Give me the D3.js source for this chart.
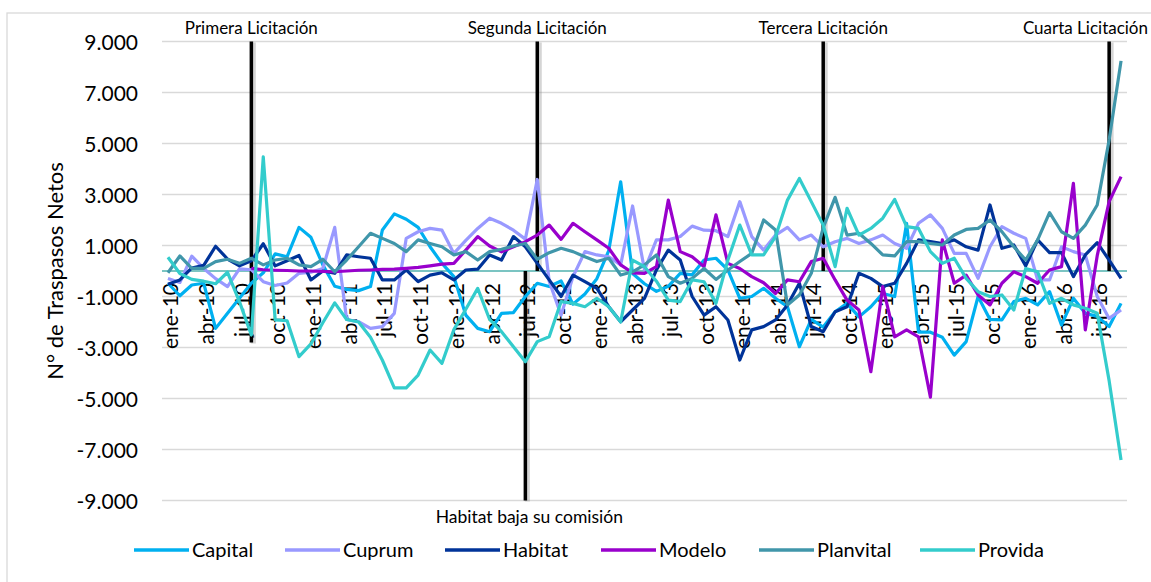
<!DOCTYPE html>
<html>
<head>
<meta charset="utf-8">
<script src="https://cdn.jsdelivr.net/npm/d3@7"></script>
<style>
  body { margin: 0; background: #fff; }
  svg { display: block; font-family: Lato, "Open Sans", sans-serif; }
</style>
</head>
<body>
<div id="chart"></div>
<script>
// month categories ene-10 .. sep-16
const months = ['ene', 'feb', 'mar', 'abr', 'may', 'jun', 'jul', 'ago', 'sep', 'oct', 'nov', 'dic'];
const years = ['10', '11', '12', '13', '14', '15', '16'];
const categories = years.flatMap(y => months.map(m => m + '-' + y)).slice(0, 81);

const seriesNames = ['Capital', 'Cuprum', 'Habitat', 'Modelo', 'Planvital', 'Provida'];
const seriesColors = ['#00B0F0', '#9999FF', '#003399', '#9900CC', '#4096AA', '#33CCCC'];

const capital = [-480, -970, -550, -480, -2250, -1660, -1070, -480, -70, 670, 560, 1710, 1320, 240, -600, -720, -770, -610, 1610, 2240,
  2030, 1710, 950, 300, -220, -1730, -2250, -2380, -1660, -1630, -1000, -480, -610, -390, -1300, -900, -300, 800, 3500, -100,
  -500, -800, -600, -90, -150, 430, 500, 40, -1070, -1000, -680, -1070, -1400, -2970, -1900, -2200, -1600, -1270, -1800, -1400,
  -880, -1000, 1870, -2400, -2400, -2600, -3300, -2770, -1000, -1900, -1920, -1200, -1070, -1330, -810, -2120, -1070, -1660, -1780, -2180,
  -1270];
const cuprum = [-290, -450, 580, 100, -300, -610, 80, 50, -420, -570, -470, -90, -50, 100, 1710, -1900, -1990, -2250, -2180, -1660,
  1280, 1540, 1670, 1600, 690, 1200, 1670, 2070, 1870, 1600, 1250, 3590, -400, -1730, -220, 760, 630, 560, 240, 2550,
  40, 1220, 1220, 1350, 1760, 1600, 1580, 1350, 2720, 1350, 820, 1410, 1710, 1220, 1410, 950, 1150, 1280, 1080, 1220,
  1410, 1080, 890, 1870, 2200, 1670, 690, 690, -290, 950, 1740, 1480, 1280, -350, -350, 950, 760, 630, -1000, -1860,
  -1530];
const habitat = [-520, -350, 120, 220, 970, 470, 200, 400, 1070, 200, 400, 610, -350, 0, -90, 630, 560, 500, -350, -350,
  40, -420, -160, -70, -350, 40, 70, 630, 430, 1350, 950, 300, -350, -1000, -160, -420, -680, -1400, -1990, -1530,
  -1070, 40, 820, 430, -1000, -1730, -1400, -1920, -3490, -2310, -2180, -1920, -1330, -480, -2180, -2380, -1600, -1400, -90, -290,
  -610, -480, 300, 1220, 1150, 1080, 1220, 950, 820, 2590, 890, 1020, 200, 1220, 720, 720, -220, 630, 1110, 430,
  -290];
const modelo = [null, null, null, null, null, null, null, 100, 50, 30, 20, 0, 0, -20, -30, 0, 30, 40, 60, 70,
  100, 140, 200, 270, 300, 820, 1350, 980, 750, 950, 1150, 1410, 1800, 1240, 1870, 1540, 1220, 890, 240, -70,
  -90, 170, 2780, 760, 560, 170, 2200, 300, 100, -220, -460, -880, -350, -420, 370, 500, -350, -1140, -1530, -3950,
  -610, -2580, -2310, -2580, -4950, 1220, -480, -160, -940, -1330, -480, -30, -220, -480, 40, 170, 3440, -2310, 600, 2720,
  3700];
const planvital = [-70, 590, 100, 100, 370, 460, 300, 500, 240, 430, 500, 240, 170, 460, -30, 430, 950, 1480, 1280, 1080,
  760, 1220, 1080, 950, 630, 760, 430, 760, 850, 980, 1080, 460, 720, 890, 760, 560, 370, 500, -160, -30,
  240, 630, -220, -480, -290, 100, -330, 40, 370, 690, 2000, 1610, -1330, -940, -90, 1700, 2890, 1410, 1480, 1080,
  630, 590, 1150, 1150, 1080, 1020, 1410, 1630, 1670, 2000, 1540, 950, 430, 1220, 2290, 1540, 1280, 1800, 2590, 5140,
  8240];
const provida = [540, -100, -330, -400, -500, -50, -1200, -2510, 4480, -1920, -1950, -3360, -2860, -2030, -1250, -1900, -2000, -2600, -3500, -4580,
  -4580, -4080, -3100, -3620, -2300, -1500, -680, -1900, -2380, -2970, -3560, -2770, -2580, -1200, -1270, -1400, -1070, -1400, -2000, 430,
  170, -400, -1140, -1200, -350, -420, -1270, 430, 1800, 630, 630, 1350, 2780, 3630, 2720, 1800, 170, 2460, 1410, 1670,
  2070, 2810, 1740, 1670, 760, 300, 500, -290, -810, -1000, -940, -1530, 100, -30, -1270, -1070, -1330, -1460, -1660, -4300,
  -7410];
const seriesValues = [capital, cuprum, habitat, modelo, planvital, provida];

// tender markers (vertical black bars)
const eventMonths = ['ago-10', 'ago-12', 'ago-14', 'ago-16'];
const eventLabels = ['Primera Licitación', 'Segunda Licitación', 'Tercera Licitación', 'Cuarta Licitación'];
const eventBottoms = [-2800, 0, 0, 0];
const eventTop = 9000;
const habitatMonth = 'jul-12';
const habitatLabel = 'Habitat baja su comisión';

const yTicks = [-9000, -7000, -5000, -3000, -1000, 1000, 3000, 5000, 7000, 9000];
const yTitle = 'N° de Traspasos Netos';

const width = 1151, height = 582;
const svg = d3.select('#chart').append('svg').attr('width', width).attr('height', height);

// chart border
svg.append('rect').attr('x', 7).attr('y', 13).attr('width', 1160).attr('height', 580)
  .attr('fill', 'none').attr('stroke', '#D9D9D9').attr('stroke-width', 1.3);

let x = d3.scalePoint().domain(categories).range([162, 1127]).padding(0.5);
let y = d3.scaleLinear().domain([-9000, 9000]).range([500.5, 41.5]);

const esLocale = d3.formatLocale({ decimal: ',', thousands: '.', grouping: [3], currency: ['$', ''], minus: '-' });
const fmt = esLocale.format(',.0f');

// gridlines
svg.append('g').selectAll('line').data(yTicks).enter().append('line')
  .attr('x1', 162).attr('x2', 1127)
  .attr('y1', d => y(d)).attr('y2', d => y(d))
  .attr('stroke', '#D9D9D9').attr('stroke-width', 1.5);

// y axis labels
let axisY = d3.axisLeft(y).tickValues(yTicks).tickFormat(fmt).tickSize(0).tickPadding(0);
let gY = svg.append('g').attr('transform', 'translate(138,0)').call(axisY);
gY.select('.domain').remove();
gY.selectAll('text').attr('font-family', 'Lato, sans-serif').attr('font-size', 21).attr('fill', '#000').attr('dy', '0.36em');

svg.append('text')
  .attr('transform', 'translate(63,271) rotate(-90)')
  .attr('text-anchor', 'middle')
  .attr('font-size', 22)
  .text(yTitle);

// zero line
svg.append('line').attr('x1', 162).attr('x2', 1127).attr('y1', y(0)).attr('y2', y(0))
  .attr('stroke', '#4FB0AE').attr('stroke-width', 1.6);

// x axis labels (every third month)
let axisX = d3.axisBottom(x).tickValues(categories.filter((d, i) => i % 3 === 0)).tickSize(0).tickPadding(0);
let gX = svg.append('g').attr('transform', 'translate(0,' + y(0) + ')').call(axisX);
gX.select('.domain').remove();
gX.selectAll('text')
  .attr('font-family', 'Lato, sans-serif').attr('font-size', 21).attr('fill', '#000')
  .attr('text-anchor', 'end')
  .attr('transform', 'translate(2,12) rotate(-90)')
  .attr('x', 0).attr('y', 0).attr('dy', '0.36em');

// black bars with a soft shadow
function vbar(cat, top, bottom) {
  svg.append('line').attr('x1', x(cat) + 2).attr('x2', x(cat) + 2)
    .attr('y1', y(top) + 1).attr('y2', y(bottom) + 1)
    .attr('stroke', '#888').attr('stroke-opacity', 0.35).attr('stroke-width', 5);
  svg.append('line').attr('x1', x(cat)).attr('x2', x(cat))
    .attr('y1', y(top)).attr('y2', y(bottom))
    .attr('stroke', '#000').attr('stroke-width', 3.5);
}
eventMonths.forEach((m, i) => vbar(m, eventTop, eventBottoms[i]));
vbar(habitatMonth, 0, -9000);

svg.append('g').selectAll('text').data(eventMonths).enter().append('text')
  .attr('x', (d, i) => i === eventMonths.length - 1 ? 1148 : x(d))
  .attr('y', 34)
  .attr('text-anchor', (d, i) => i === eventMonths.length - 1 ? 'end' : 'middle')
  .attr('font-size', 17)
  .text((d, i) => eventLabels[i]);

svg.append('text').attr('x', x(habitatMonth) + 4).attr('y', 523)
  .attr('text-anchor', 'middle').attr('font-size', 17.5)
  .text(habitatLabel);

// series lines
let line = d3.line()
  .defined(d => d != null)
  .x((d, i) => x(categories[i]))
  .y(d => y(d));

svg.append('g').selectAll('path').data(seriesValues).enter().append('path')
  .attr('d', d => line(d))
  .attr('fill', 'none')
  .attr('stroke', (d, i) => seriesColors[i])
  .attr('stroke-width', 3.2)
  .attr('stroke-linejoin', 'round');

// legend
const legendX = [134, 285, 445, 601, 759, 920];
let legend = svg.append('g').selectAll('g').data(seriesNames).enter().append('g')
  .attr('transform', (d, i) => 'translate(' + legendX[i] + ',550)');
legend.append('line').attr('x1', 0).attr('x2', 55).attr('y1', 0).attr('y2', 0)
  .attr('stroke', (d, i) => seriesColors[i]).attr('stroke-width', 3.5);
legend.append('text').attr('x', 58).attr('y', 0).attr('dy', '0.36em')
  .attr('font-size', 20).text(d => d);
</script>
</body>
</html>
